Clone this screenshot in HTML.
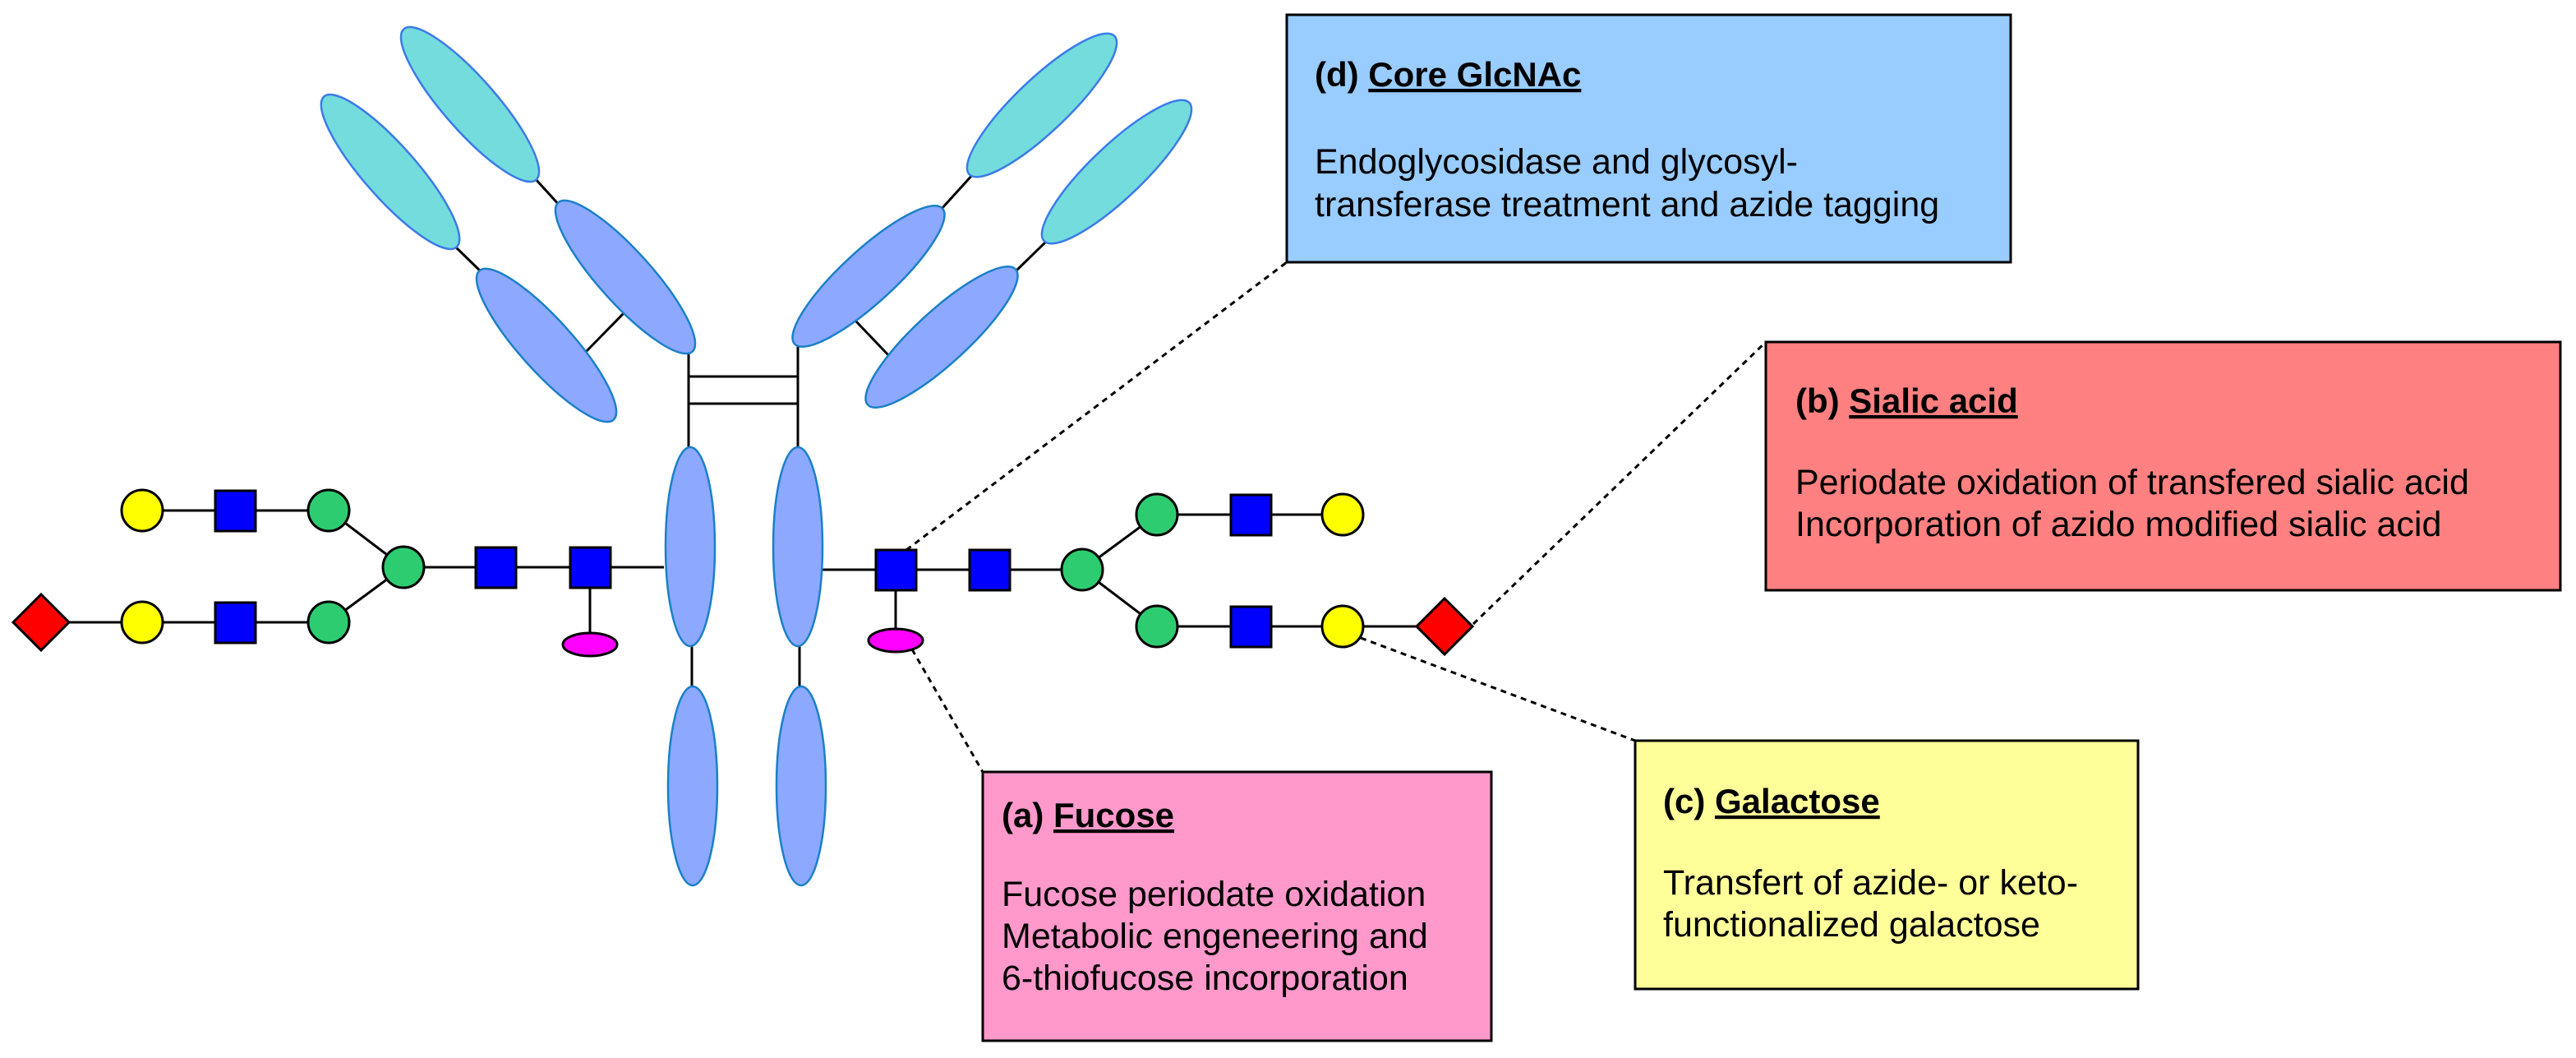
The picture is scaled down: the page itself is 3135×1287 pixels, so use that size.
<!DOCTYPE html>
<html><head><meta charset="utf-8"><style>
html,body{margin:0;padding:0;background:#fff;}
svg{display:block;}
text{font-family:"Liberation Sans",Arial,sans-serif;font-size:43px;fill:#000;}
.t{font-weight:bold;font-size:42px;}
</style></head><body>
<svg width="3135" height="1287" viewBox="0 0 3135 1287" xmlns="http://www.w3.org/2000/svg">
<g stroke="#000" stroke-width="3" fill="none">
<line x1="651" y1="217" x2="682" y2="251"/>
<line x1="554" y1="300" x2="588" y2="333"/>
<line x1="761" y1="379" x2="712" y2="429"/>
<line x1="1145" y1="255" x2="1185" y2="211"/>
<line x1="1236" y1="330" x2="1274" y2="293"/>
<line x1="1041" y1="390" x2="1084" y2="435"/>
<line x1="838" y1="420" x2="838" y2="546"/>
<line x1="971" y1="414" x2="971" y2="546"/>
<line x1="838" y1="458" x2="971" y2="458"/>
<line x1="838" y1="491" x2="971" y2="491"/>
<line x1="842" y1="784" x2="842" y2="837"/>
<line x1="973" y1="784" x2="973" y2="837"/>
<line x1="173" y1="621" x2="400" y2="621"/>
<line x1="50" y1="757" x2="400" y2="757"/>
<line x1="400" y1="621" x2="491" y2="690"/>
<line x1="400" y1="757" x2="491" y2="690"/>
<line x1="491" y1="690" x2="808" y2="690"/>
<line x1="718" y1="690" x2="718" y2="784"/>
<line x1="1001" y1="693" x2="1317" y2="693"/>
<line x1="1090" y1="693" x2="1090" y2="779"/>
<line x1="1317" y1="693" x2="1408" y2="626"/>
<line x1="1317" y1="693" x2="1408" y2="762"/>
<line x1="1408" y1="626" x2="1634" y2="626"/>
<line x1="1408" y1="762" x2="1758" y2="762"/>
</g>
<g stroke="#3a7be8" stroke-width="2.5" fill="#74dcdc">
<ellipse cx="572" cy="127" rx="122" ry="32" transform="rotate(48.7 572 127)"/>
<ellipse cx="475" cy="209" rx="122" ry="32" transform="rotate(48.6 475 209)"/>
<ellipse cx="1268" cy="128" rx="122" ry="32" transform="rotate(-43.6 1268 128)"/>
<ellipse cx="1359" cy="209" rx="122" ry="32" transform="rotate(-43.6 1359 209)"/>
</g>
<g stroke="#1a80c8" stroke-width="2.5" fill="#8ca8ff">
<ellipse cx="761" cy="337" rx="122" ry="32" transform="rotate(48 761 337)"/>
<ellipse cx="665" cy="420" rx="122" ry="32" transform="rotate(48 665 420)"/>
<ellipse cx="1057" cy="336" rx="122" ry="32" transform="rotate(-42.5 1057 336)"/>
<ellipse cx="1146" cy="410" rx="122" ry="32" transform="rotate(-42.5 1146 410)"/>
<ellipse cx="840" cy="665" rx="30" ry="121"/>
<ellipse cx="971" cy="665" rx="30" ry="121"/>
<ellipse cx="843" cy="956" rx="30" ry="121"/>
<ellipse cx="975" cy="956" rx="30" ry="121"/>
</g>
<g stroke="#000" stroke-width="3">
<circle cx="173" cy="621" r="25" fill="#ffff00"/>
<circle cx="173" cy="757" r="25" fill="#ffff00"/>
<rect x="262" y="597" width="49" height="49" fill="#0000ff"/>
<rect x="262" y="733" width="49" height="49" fill="#0000ff"/>
<circle cx="400" cy="621" r="25" fill="#2ecc71"/>
<circle cx="400" cy="757" r="25" fill="#2ecc71"/>
<circle cx="491" cy="690" r="25" fill="#2ecc71"/>
<rect x="579" y="666" width="49" height="49" fill="#0000ff"/>
<rect x="694" y="666" width="49" height="49" fill="#0000ff"/>
<ellipse cx="718" cy="784" rx="33" ry="14" fill="#ff00ff"/>
<polygon points="50,723 84,757 50,791 16,757" fill="#ff0000"/>
<rect x="1066" y="669" width="49" height="49" fill="#0000ff"/>
<rect x="1180" y="669" width="49" height="49" fill="#0000ff"/>
<ellipse cx="1090" cy="779" rx="33" ry="14" fill="#ff00ff"/>
<circle cx="1317" cy="693" r="25" fill="#2ecc71"/>
<circle cx="1408" cy="626" r="25" fill="#2ecc71"/>
<circle cx="1408" cy="762" r="25" fill="#2ecc71"/>
<rect x="1498" y="602" width="49" height="49" fill="#0000ff"/>
<rect x="1498" y="738" width="49" height="49" fill="#0000ff"/>
<circle cx="1634" cy="626" r="25" fill="#ffff00"/>
<circle cx="1634" cy="762" r="25" fill="#ffff00"/>
<polygon points="1758,728 1792,762 1758,796 1724,762" fill="#ff0000"/>
</g>
<g stroke="#000" stroke-width="3" stroke-dasharray="7,6" fill="none">
<line x1="1103" y1="669" x2="1566" y2="319"/>
<line x1="1793" y1="759" x2="2149" y2="416"/>
<line x1="1656" y1="776" x2="1990" y2="901"/>
<line x1="1110" y1="790" x2="1196" y2="939"/>
</g>
<g stroke="#000" stroke-width="3">
<rect x="1566" y="18" width="881" height="301" fill="#99ccff"/>
<rect x="2149" y="416" width="967" height="302" fill="#ff8080"/>
<rect x="1990" y="901" width="612" height="302" fill="#ffff99"/>
<rect x="1196" y="939" width="619" height="327" fill="#ff99cc"/>
</g>
<text x="1600" y="105" class="t">(d)  <tspan text-decoration="underline">Core GlcNAc</tspan></text>
<text x="1600" y="211">Endoglycosidase and glycosyl-</text>
<text x="1600" y="263">transferase treatment and azide tagging</text>
<text x="2185" y="502" class="t">(b) <tspan text-decoration="underline">Sialic acid</tspan></text>
<text x="2185" y="601">Periodate oxidation of transfered sialic acid</text>
<text x="2185" y="652">Incorporation of azido modified sialic acid</text>
<text x="2024" y="989" class="t">(c) <tspan text-decoration="underline">Galactose</tspan></text>
<text x="2024" y="1088">Transfert of azide- or keto-</text>
<text x="2024" y="1139">functionalized galactose</text>
<text x="1219" y="1006" class="t">(a) <tspan text-decoration="underline">Fucose</tspan></text>
<text x="1219" y="1102">Fucose periodate oxidation</text>
<text x="1219" y="1153">Metabolic engeneering and</text>
<text x="1219" y="1204">6-thiofucose incorporation</text>
</svg>
</body></html>
